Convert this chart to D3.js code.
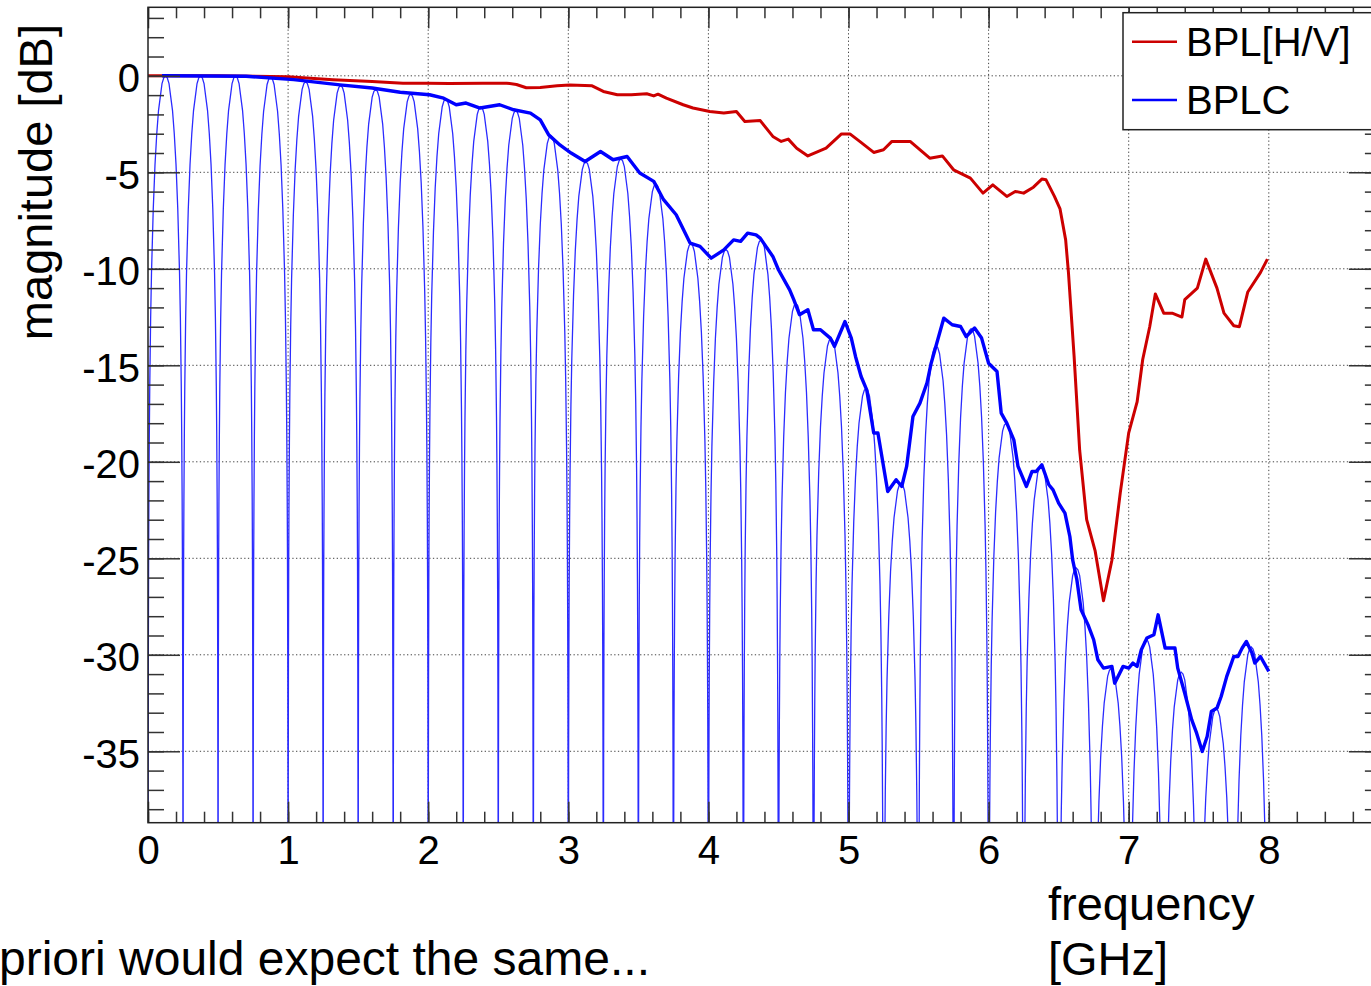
<!DOCTYPE html>
<html>
<head>
<meta charset="utf-8">
<script src="https://cdn.jsdelivr.net/npm/d3@7"></script>
<style>
  body { margin: 0; background: #fff; }
  text { font-family: "Liberation Sans", Arial, Helvetica, sans-serif; fill: #000; }
</style>
</head>
<body>
<div id="chart"></div>
<script>
// ---- data ----
var xTicks = [0, 1, 2, 3, 4, 5, 6, 7, 8];
var yTicks = [0, -5, -10, -15, -20, -25, -30, -35];

// BPL[H/V] (red)
var redFreq = [0, 0.5, 1.0, 1.32, 1.6, 1.82, 2.0, 2.15, 2.39, 2.56, 2.63, 2.7, 2.8, 2.92, 3.01, 3.17, 3.25, 3.35, 3.45, 3.56,
  3.61, 3.64, 3.7, 3.82, 3.89, 4.01, 4.11, 4.2, 4.26, 4.37, 4.46, 4.52, 4.57, 4.63, 4.71, 4.84, 4.95, 5.01, 5.08, 5.18,
  5.25, 5.31, 5.37, 5.44, 5.58, 5.67, 5.75, 5.87, 5.96, 6.03, 6.13, 6.19, 6.25, 6.32, 6.38, 6.41, 6.47, 6.51, 6.55, 6.57,
  6.61, 6.65, 6.70, 6.76, 6.82, 6.88, 6.94, 7.0, 7.06, 7.1, 7.15, 7.19, 7.25, 7.31, 7.38, 7.4, 7.49, 7.55, 7.63, 7.68,
  7.75, 7.79, 7.85, 7.94, 7.99];
var redMag = [0, 0, -0.05, -0.2, -0.3, -0.38, -0.38, -0.4, -0.38, -0.38, -0.45, -0.62, -0.6, -0.52, -0.47, -0.52, -0.81, -0.98, -0.98, -0.93,
  -1.04, -0.95, -1.16, -1.5, -1.67, -1.85, -1.93, -1.85, -2.37, -2.32, -3.14, -3.4, -3.28, -3.75, -4.15, -3.75, -3.01, -3.01, -3.4, -3.97,
  -3.83, -3.4, -3.4, -3.4, -4.27, -4.15, -4.87, -5.3, -6.08, -5.65, -6.25, -5.99, -6.08, -5.77, -5.35, -5.39, -6.25, -6.9, -8.5, -10.2,
  -14.5, -19.4, -23.0, -24.6, -27.2, -25.1, -21.6, -18.5, -16.9, -14.7, -13.0, -11.3, -12.3, -12.3, -12.5, -11.6, -11.0, -9.5, -11.0, -12.3,
  -12.95, -13.0, -11.2, -10.2, -9.5];

// BPLC envelope (thick blue)
var envFreq = [0.1, 0.7, 1.04, 1.37, 1.6, 1.8, 2.01, 2.11, 2.2, 2.27, 2.37, 2.51, 2.61, 2.73, 2.8, 2.86, 2.94, 3.02, 3.12, 3.23,
  3.32, 3.42, 3.51, 3.61, 3.68, 3.77, 3.87, 3.94, 4.02, 4.11, 4.18, 4.23, 4.28, 4.34, 4.37, 4.46, 4.5, 4.58, 4.61, 4.65,
  4.71, 4.75, 4.8, 4.87, 4.9, 4.975, 5.02, 5.05, 5.09, 5.13, 5.18, 5.21, 5.28, 5.34, 5.38, 5.415, 5.46, 5.51, 5.56, 5.59,
  5.68, 5.74, 5.8, 5.84, 5.9, 5.95, 6.0, 6.06, 6.09, 6.13, 6.18, 6.21, 6.27, 6.31, 6.34, 6.38, 6.43, 6.46, 6.5, 6.545,
  6.58, 6.6, 6.63, 6.66, 6.71, 6.75, 6.78, 6.82, 6.88, 6.9, 6.96, 7.0, 7.03, 7.06, 7.09, 7.13, 7.18, 7.21, 7.26, 7.33,
  7.35, 7.4, 7.45, 7.485, 7.525, 7.56, 7.59, 7.63, 7.66, 7.7, 7.75, 7.78, 7.81, 7.84, 7.88, 7.9, 7.94, 8.0];
var envMag = [0, -0.02, -0.2, -0.47, -0.63, -0.85, -0.98, -1.16, -1.5, -1.41, -1.67, -1.5, -1.76, -1.93, -2.28, -3.06, -3.58, -4.0, -4.44, -3.92,
  -4.35, -4.18, -5.04, -5.47, -6.42, -7.2, -8.67, -8.84, -9.45, -9.02, -8.5, -8.58, -8.15, -8.24, -8.41, -9.36, -10.05, -11.09, -11.61, -12.38,
  -12.12, -13.16, -13.16, -13.59, -14.02, -12.73, -13.59, -14.54, -15.58, -16.27, -18.51, -18.51, -21.54, -20.93, -21.28, -20.24, -17.65, -16.96, -15.92, -14.89,
  -12.56, -12.9, -12.99, -13.51, -13.07, -13.59, -14.89, -15.32, -17.48, -18.0, -18.86, -20.24, -21.28, -20.5, -20.5, -20.16, -21.19, -21.45, -22.14, -22.66,
  -23.87, -25.08, -26.11, -27.67, -28.45, -29.22, -30.26, -30.69, -30.6, -31.47, -30.6, -30.69, -30.43, -30.6, -29.74, -29.13, -28.96, -27.93, -29.65, -29.65,
  -30.69, -31.99, -33.37, -34.06, -35.01, -34.23, -32.94, -32.76, -32.16, -31.12, -30.09, -30.09, -29.65, -29.31, -29.91, -30.43, -30.09, -30.86];

// BPLC comb (thin blue): null positions, lobe tops and the lobe side profile
var lobeEdges = [0, 0.25, 0.5, 0.75, 1.0, 1.25, 1.5, 1.75, 2.0, 2.25, 2.5, 2.75, 3.0, 3.25, 3.5, 3.75, 4.0,
  4.25, 4.5, 4.75, 5.0, 5.25, 5.5, 5.75, 6.0, 6.25, 6.5, 6.75, 7.0, 7.25, 7.5, 7.75, 8.0];
var lobePeak = [0, 0, 0, -0.05, -0.3, -0.5, -0.7, -0.95, -1.2, -1.6, -1.8, -3.1, -4.45, -4.3, -5.6, -8.7,
  -9.0, -8.5, -11.8, -13.6, -16.2, -21.1, -14.0, -13.1, -18.0, -20.2, -25.5, -30.7, -29.2, -30.9, -32.8, -29.6];
var lobeU = [0, 0.005, 0.01, 0.02, 0.035, 0.05, 0.075, 0.1, 0.15, 0.2, 0.3, 0.4, 0.5, 0.6, 0.7, 0.8, 0.9, 1];
var lobeDrop = [-80, -42, -36, -30, -25, -22, -18.6, -16.1, -12.6, -10.2, -6.9, -4.6, -3.0, -1.8, -1.1, -0.4, -0.1, 0];

var legendNames = ["BPL[H/V]", "BPLC"];
var legendColors = ["#cc0000", "#0000ff"];

// ---- layout ----
var W = 1371, H = 986;
var x = d3.scaleLinear().domain([0, 8.8]).range([148, 148 + 8.8 * 140.1]);
var y = d3.scaleLinear().domain([-38.7, 3.55]).range([822.7, 7.3]);
var padL = x.range()[0], padR = x.range()[1], padT = y.range()[1], padB = y.range()[0];

var svg = d3.select("#chart").append("svg")
  .attr("width", W)
  .attr("height", H);

svg.append("rect").attr("width", W).attr("height", H).attr("fill", "#fff");

svg.append("defs").append("clipPath").attr("id", "plotClip")
  .append("rect")
  .attr("x", padL).attr("y", padT)
  .attr("width", padR - padL).attr("height", padB - padT);

// grid (dotted)
var grid = svg.append("g").attr("stroke", "#444").attr("stroke-width", 1).attr("stroke-dasharray", "1.3,2.4");
grid.selectAll("line.gx").data(xTicks.filter(d => d > 0)).enter().append("line")
  .attr("x1", d => x(d)).attr("x2", d => x(d))
  .attr("y1", padT).attr("y2", padB);
grid.selectAll("line.gy").data(yTicks).enter().append("line")
  .attr("y1", d => y(d)).attr("y2", d => y(d))
  .attr("x1", padL).attr("x2", padR);

var plot = svg.append("g").attr("clip-path", "url(#plotClip)");

// thin comb lobes
var combPts = [];
for (var k = 0; k < lobePeak.length; k++) {
  var a = lobeEdges[k], b = lobeEdges[k + 1], half = (b - a) / 2;
  for (var i = 0; i < lobeU.length; i++) combPts.push([a + lobeU[i] * half, lobePeak[k] + lobeDrop[i]]);
  for (var j = lobeU.length - 2; j >= 0; j--) combPts.push([b - lobeU[j] * half, lobePeak[k] + lobeDrop[j]]);
}

var line = d3.line().x(d => x(d[0])).y(d => y(d[1]));

plot.append("path")
  .attr("d", line(combPts))
  .attr("fill", "none")
  .attr("stroke", "#2b2bff")
  .attr("stroke-width", 1.3);

// red measurement
plot.append("path")
  .attr("d", line(redFreq.map((f, i) => [f, redMag[i]])))
  .attr("fill", "none")
  .attr("stroke", "#cc0000")
  .attr("stroke-width", 3)
  .attr("stroke-linejoin", "round");

// blue envelope
plot.append("path")
  .attr("d", line(envFreq.map((f, i) => [f, envMag[i]])))
  .attr("fill", "none")
  .attr("stroke", "#0000ff")
  .attr("stroke-width", 3.4)
  .attr("stroke-linejoin", "round");

// ---- axes (ticks point inward, ROOT style) ----
function styleAxis(g) {
  g.select(".domain").remove();
  g.selectAll(".tick line").attr("stroke", "#333").attr("stroke-width", 1.5);
  g.selectAll("text").attr("font-size", 40).attr("fill", "#000")
    .attr("font-family", "'Liberation Sans', Arial, sans-serif");
}

var plainNum = d => String(d);
var xMinor = d3.range(0, 44).map(i => i * 0.2);
var yMinor = d3.range(-38, 4).map(i => i);

svg.append("g").attr("transform", `translate(0,${padB})`)
  .call(d3.axisBottom(x).tickValues(xMinor).tickSize(-11).tickFormat("")).call(styleAxis);
svg.append("g").attr("transform", `translate(0,${padB})`)
  .call(d3.axisBottom(x).tickValues(xTicks).tickSize(-21).tickPadding(13).tickFormat(plainNum)).call(styleAxis);
svg.append("g").attr("transform", `translate(0,${padT})`)
  .call(d3.axisTop(x).tickValues(xMinor).tickSize(-11).tickFormat("")).call(styleAxis);
svg.append("g").attr("transform", `translate(0,${padT})`)
  .call(d3.axisTop(x).tickValues(xTicks).tickSize(-21).tickFormat("")).call(styleAxis);

svg.append("g").attr("transform", `translate(${padL},0)`)
  .call(d3.axisLeft(y).tickValues(yMinor).tickSize(-16).tickFormat("")).call(styleAxis);
var yAx = svg.append("g").attr("transform", `translate(${padL},0)`)
  .call(d3.axisLeft(y).tickValues(yTicks).tickSize(-32).tickPadding(8).tickFormat(plainNum)).call(styleAxis);
yAx.selectAll("text").attr("dy", "0.4em");
svg.append("g").attr("transform", `translate(${padR},0)`)
  .call(d3.axisRight(y).tickValues(yMinor).tickSize(-16).tickFormat("")).call(styleAxis);
svg.append("g").attr("transform", `translate(${padR},0)`)
  .call(d3.axisRight(y).tickValues(yTicks).tickSize(-32).tickFormat("")).call(styleAxis);

// frame
svg.append("rect")
  .attr("x", padL).attr("y", padT)
  .attr("width", padR - padL).attr("height", padB - padT)
  .attr("fill", "none").attr("stroke", "#222").attr("stroke-width", 1.5);

// ---- titles ----
svg.append("text")
  .attr("transform", "translate(52,24) rotate(-90)")
  .attr("text-anchor", "end")
  .attr("font-size", 47)
  .text("magnitude [dB]");

svg.append("text").attr("x", 1048).attr("y", 920).attr("font-size", 47).text("frequency");
svg.append("text").attr("x", 1048).attr("y", 975).attr("font-size", 47).text("[GHz]");

svg.append("text").attr("x", -1).attr("y", 975).attr("font-size", 48).text("priori would expect the same...");

// ---- legend ----
var legend = svg.append("g");
legend.append("rect")
  .attr("x", 1123).attr("y", 12.7)
  .attr("width", 290).attr("height", 117)
  .attr("fill", "#fff").attr("stroke", "#222").attr("stroke-width", 1.5);

var legendRows = [41.7, 100];
legend.selectAll("line.leg").data(legendNames).enter().append("line")
  .attr("x1", 1132).attr("x2", 1177)
  .attr("y1", (d, i) => legendRows[i]).attr("y2", (d, i) => legendRows[i])
  .attr("stroke", (d, i) => legendColors[i]).attr("stroke-width", 2.5);
legend.selectAll("text.leg").data(legendNames).enter().append("text")
  .attr("x", 1186)
  .attr("y", (d, i) => legendRows[i] + 14)
  .attr("font-size", 40)
  .text(d => d);
</script>
</body>
</html>
